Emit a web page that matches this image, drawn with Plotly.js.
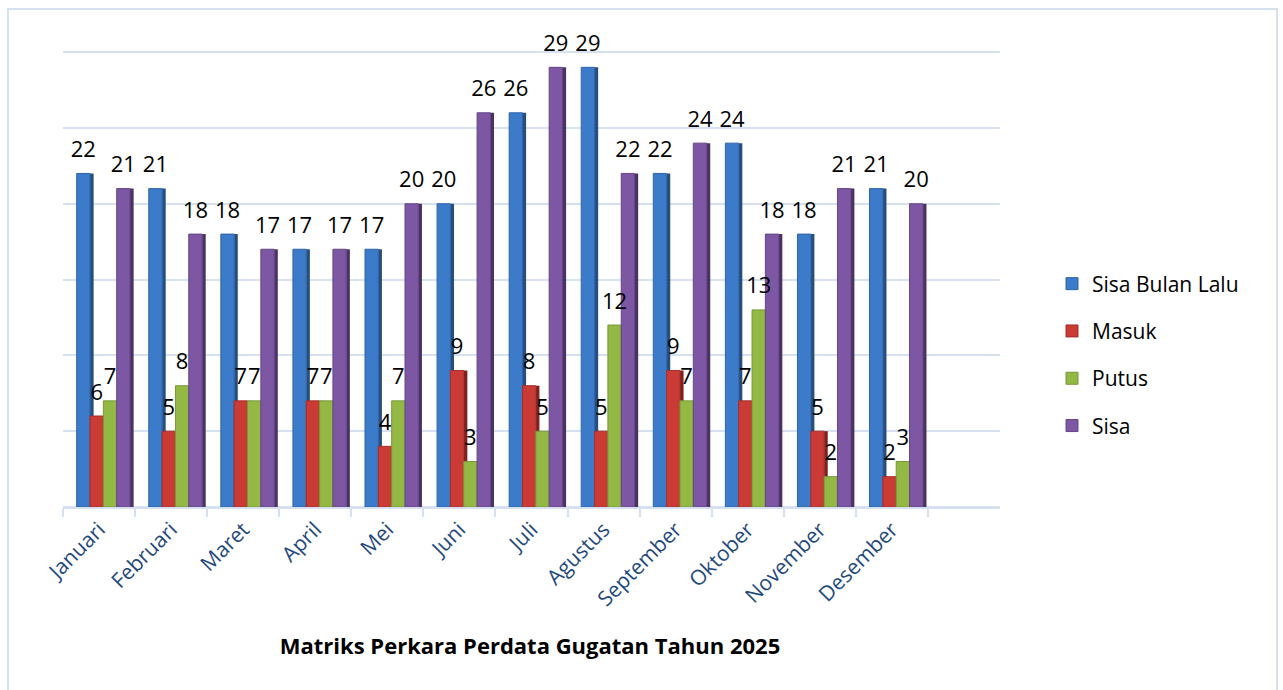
<!DOCTYPE html>
<html>
<head>
<meta charset="utf-8">
<script src="https://cdn.plot.ly/plotly-3.0.1.min.js"></script>
<style>
html,body{margin:0;padding:0;background:#fff;}
#chart{width:1283px;height:690px;}
</style>
</head>
<body>
<div id="chart"></div>
<script>
const months = ["Januari","Februari","Maret","April","Mei","Juni","Juli","Agustus","September","Oktober","November","Desember"];
const sisaBulanLalu = [22,21,18,17,17,20,26,29,22,24,18,21];
const masuk = [6,5,7,7,4,9,8,5,9,7,5,2];
const putus = [7,8,7,7,7,3,5,12,7,13,2,3];
const sisa = [21,18,17,17,20,26,29,22,24,18,21,20];
const chartTitle = "Matriks Perkara Perdata Gugatan Tahun 2025";

const FONT = "Open Sans, Noto Sans, sans-serif";
const BW = 0.185, SIDE = 0.05;

function front(name, y, color, line, off) {
  return {
    type: "bar", name: name, x: months, y: y,
    offset: off, width: BW,
    marker: {color: color, line: {color: line, width: 1}},
    legendgroup: name, hoverinfo: "x+y+name"
  };
}
function side(name, y, color, off) {
  return {
    type: "bar", name: name + " side", x: months, y: y,
    offset: off + BW, width: SIDE,
    marker: {color: color, line: {width: 0}},
    showlegend: false, legendgroup: name, hoverinfo: "skip"
  };
}
function labels(name, y, off) {
  return {
    type: "scatter", mode: "markers+text", xaxis: "x2", yaxis: "y",
    x: y.map((v, i) => i + off + BW / 2), y: y,
    text: y.map(String), textposition: "top center",
    marker: {size: 16, opacity: 0},
    textfont: {family: FONT, size: 22, color: "#000"},
    cliponaxis: false, showlegend: false, legendgroup: name, hoverinfo: "skip"
  };
}

const series = [
  ["Sisa Bulan Lalu", sisaBulanLalu, "#3C7BC9", "#2E63A6", "#264F80", -0.31],
  ["Masuk", masuk, "#CB3B35", "#A52E2A", "#7E2220", -0.125],
  ["Putus", putus, "#93B944", "#77973A", "#5D762C", 0.06],
  ["Sisa", sisa, "#7D57A3", "#654586", "#4A3264", 0.245]
];
const data = [];
series.forEach(s => { data.push(side(s[0], s[1], s[4], s[5])); });
series.forEach(s => { data.push(front(s[0], s[1], s[2], s[3], s[5])); });
series.forEach(s => { data.push(labels(s[0], s[1], s[5])); });

const L = 63, R = 283, T = 37, B = 183;
const W = 1283, H = 690;
const pw = W - L - R, ph = H - T - B;
const px = v => (v - L) / pw;
const py = v => (H - B - v) / ph;

const layout = {
  width: W, height: H,
  margin: {l: L, r: R, t: T, b: B},
  paper_bgcolor: "#fff", plot_bgcolor: "#fff",
  barmode: "overlay",
  font: {family: FONT, color: "#000"},
  title: {
    text: "<b>" + chartTitle + "</b>",
    font: {family: FONT, size: 22, color: "#000"},
    xref: "container", yref: "container",
    x: 530 / W, y: 1 - 646 / H, xanchor: "center", yanchor: "middle"
  },
  xaxis: {
    type: "category",
    range: [-0.5, 12.5],
    tickangle: -45,
    tickfont: {family: FONT, size: 21, color: "#1F497D"},
    showline: true, linecolor: "#D5E1F1", linewidth: 2,
    ticks: "outside", ticklen: 8, tickcolor: "#D5E1F1", tickwidth: 2,
    tickson: "boundaries",
    showgrid: false, zeroline: false
  },
  xaxis2: {
    type: "linear", overlaying: "x", range: [-0.5, 12.5],
    visible: false, showgrid: false, zeroline: false
  },
  yaxis: {
    range: [0, 31],
    dtick: 5, tick0: 0,
    showticklabels: false,
    showgrid: true, gridcolor: "#D5E1F1", gridwidth: 2,
    zeroline: true, zerolinecolor: "#D5E1F1", zerolinewidth: 2,
    showline: false, ticks: ""
  },
  legend: {
    xref: "container", yref: "container",
    x: 1052 / W, y: 1 - 355 / H, xanchor: "left", yanchor: "middle",
    font: {family: FONT, size: 21, color: "#000"},
    traceorder: "grouped", tracegroupgap: 17,
    bgcolor: "rgba(0,0,0,0)"
  },
  showlegend: true,
  shapes: [{
    type: "rect", xref: "paper", yref: "paper",
    x0: px(8), x1: px(1277), y0: py(H + 5), y1: py(9),
    line: {color: "#D5E1F1", width: 2}, fillcolor: "rgba(0,0,0,0)", layer: "below"
  }]
};

Plotly.newPlot("chart", data, layout, {displayModeBar: false, staticPlot: true});
</script>
</body>
</html>
